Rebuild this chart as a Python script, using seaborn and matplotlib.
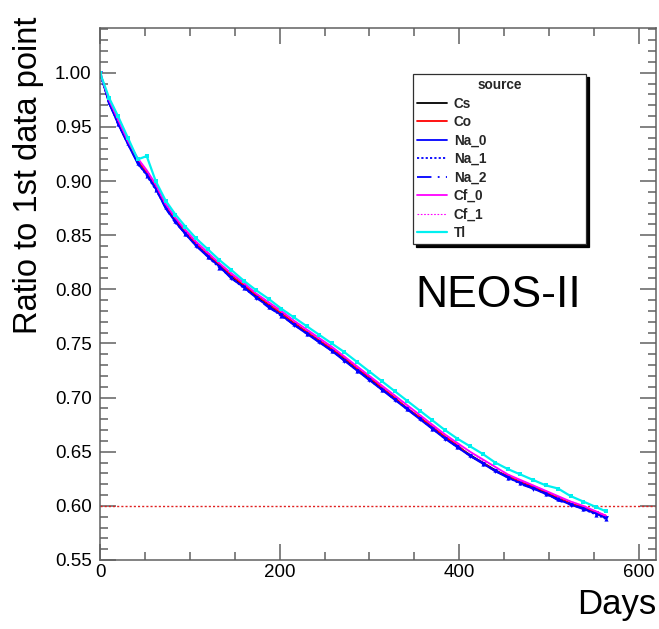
import matplotlib
matplotlib.use("Agg")
import matplotlib.pyplot as plt
from matplotlib.lines import Line2D
from matplotlib.ticker import MultipleLocator, FormatStrFormatter
import seaborn as sns
import pandas as pd

# Measurement days (shared by every source)
days = [0, 10, 20, 31, 42, 52, 62, 73, 84, 95, 107, 120, 133, 146, 160, 174,
        188, 202, 216, 230, 244, 258, 272, 286, 300, 314, 328, 342, 356, 370,
        384, 398, 412, 426, 440, 454, 468, 482, 496, 510, 524, 538, 552, 563]

# Ratio of each source's peak position to its first data point
cs = [1.000, .973, .954, .935, .918, .907, .894, .876, .863, .852, .841, .831, .822, .812,
      .803, .793, .785, .776, .768, .760, .752, .744, .735, .726, .717, .708, .699, .690,
      .681, .672, .663, .655, .647, .640, .633, .627, .622, .617, .612, .607, .602, .598,
      .593, .589]
co = [1.000, .974, .956, .936, .919, .908, .895, .877, .865, .853, .842, .832, .823, .813,
      .804, .795, .786, .778, .769, .761, .753, .745, .737, .727, .719, .709, .700, .690,
      .682, .673, .664, .656, .646, .640, .632, .628, .622, .618, .613, .608, .602, .599,
      .594, .591]
na_0 = [1.000, .972, .953, .934, .916, .906, .893, .875, .862, .851, .840, .830, .821, .810,
        .802, .792, .784, .776, .767, .759, .751, .743, .734, .725, .716, .707, .698, .689,
        .680, .671, .662, .654, .646, .639, .632, .626, .621, .616, .611, .606, .601, .597,
        .593, .589]
na_1 = [1.000, .973, .953, .935, .917, .905, .892, .876, .863, .851, .841, .830, .820, .811,
        .801, .793, .784, .775, .768, .759, .752, .743, .735, .725, .717, .707, .699, .689,
        .681, .671, .663, .654, .647, .639, .633, .626, .621, .617, .611, .606, .602, .597,
        .592, .588]
na_2 = [1.000, .972, .954, .934, .917, .906, .893, .875, .861, .852, .840, .831, .821, .811,
        .802, .792, .783, .776, .767, .760, .751, .744, .734, .726, .716, .708, .698, .690,
        .680, .672, .662, .655, .646, .640, .632, .627, .620, .616, .612, .605, .601, .598,
        .592, .589]
cf_0 = [1.000, .975, .957, .937, .921, .910, .897, .879, .866, .855, .844, .834, .824, .815,
        .806, .796, .788, .780, .771, .763, .755, .747, .738, .729, .720, .711, .702, .693,
        .684, .675, .666, .658, .650, .643, .636, .629, .624, .619, .614, .609, .604, .600,
        .595, .591]
cf_1 = [1.000, .975, .956, .938, .921, .909, .896, .878, .866, .854, .843, .833, .824, .814,
        .805, .796, .787, .779, .771, .762, .754, .746, .738, .728, .720, .710, .702, .692,
        .684, .674, .666, .657, .650, .642, .636, .629, .623, .619, .614, .608, .604, .600,
        .595, .591]
tl = [1.000, .977, .960, .940, .920, .923, .900, .882, .869, .858, .847, .837, .827, .818,
      .808, .799, .791, .782, .774, .766, .758, .750, .742, .733, .724, .715, .706, .697,
      .688, .679, .670, .662, .655, .648, .640, .634, .629, .624, .619, .616, .609, .604,
      .599, .595]

sources = ["Cs", "Co", "Na_0", "Na_1", "Na_2", "Cf_0", "Cf_1", "Tl"]
series = [cs, co, na_0, na_1, na_2, cf_0, cf_1, tl]
reference_ratio = 0.60

# Per-source drawing style
styles = {
    "Cs":   dict(color="#000000", ls="-", lw=1.3, marker=None, ms=0),
    "Co":   dict(color="#ff0000", ls="-", lw=1.3, marker=None, ms=0),
    "Na_0": dict(color="#0000ff", ls="-", lw=1.3, marker="v", ms=3.5),
    "Na_1": dict(color="#0000ff", ls=(0, (1.2, 1.2)), lw=1.3, marker="^", ms=3.0),
    "Na_2": dict(color="#0000ff", ls=(0, (8, 3.5, 1, 3.5)), lw=1.3, marker=None, ms=0),
    "Cf_0": dict(color="#ff00ff", ls="-", lw=1.3, marker=None, ms=0),
    "Cf_1": dict(color="#ff00ff", ls=(0, (1.5, 1.5)), lw=0.8, marker=None, ms=0),
    "Tl":   dict(color="#00f0f0", ls="-", lw=1.6, marker="s", ms=2.6),
}

df = pd.DataFrame({
    "Days": days * len(sources),
    "ratio": [v for vals in series for v in vals],
    "source": [s for s in sources for _ in days],
})

sns.set_theme(style="ticks")
plt.rcParams["font.family"] = ["Liberation Sans", "DejaVu Sans"]

fig = plt.figure(figsize=(6.59, 6.29), dpi=100)
ax = fig.add_axes([100 / 659, 1 - 560 / 629, 556 / 659, 532.3 / 629])

for name in sources:
    st = styles[name]
    sub = df[df["source"] == name]
    sns.lineplot(data=sub, x="Days", y="ratio", ax=ax, color=st["color"],
                 linestyle=st["ls"], linewidth=st["lw"], marker=st["marker"],
                 markersize=st["ms"], markeredgewidth=0, legend=False,
                 estimator=None, sort=False)

ax.axhline(reference_ratio, color="#e02020", ls=(0, (1.5, 1.5)), lw=1.0, zorder=1)

ax.set_xlim(0, 619)
ax.set_ylim(0.55, 1.0416)
ax.xaxis.set_major_locator(MultipleLocator(200))
ax.xaxis.set_minor_locator(MultipleLocator(50))
ax.yaxis.set_major_locator(MultipleLocator(0.05))
ax.yaxis.set_minor_locator(MultipleLocator(0.01))
ax.yaxis.set_major_formatter(FormatStrFormatter("%.2f"))
ax.xaxis.set_major_formatter(FormatStrFormatter("%d"))

frame_col = "#606060"
for sp in ax.spines.values():
    sp.set_color(frame_col)
    sp.set_linewidth(1.1)
ax.tick_params(which="both", direction="in", top=True, right=True,
               color=frame_col, width=1.1, labelsize=13.5, labelcolor="black")
ax.tick_params(which="major", length=11.5)
ax.tick_params(which="minor", length=5.8)
ax.tick_params(axis="y", pad=6)
ax.tick_params(axis="x", pad=3)

ax.set_xlabel("Days", fontsize=25, color="black", ha="right", va="top")
ax.xaxis.set_label_coords(1.0, -0.053)
ax.set_ylabel("Ratio to 1st data point", fontsize=23.5, color="black")
ax.yaxis.set_label_coords(-0.101, 0.723)

ax.text(0.716, 0.497, "NEOS-II", transform=ax.transAxes, fontsize=32,
        ha="center", va="center", color="black")

handles = [Line2D([], [], color=styles[n]["color"], ls=styles[n]["ls"],
                  lw=styles[n]["lw"]) for n in sources]
leg = ax.legend(handles, sources, title="source", loc="upper left",
                bbox_to_anchor=(0.563, 0.594, 0.311, 0.319), mode="expand",
                prop={"size": 9.8, "weight": "bold"},
                title_fontproperties={"size": 9.8, "weight": "bold"},
                frameon=True, fancybox=False, framealpha=1,
                edgecolor="#303030", borderpad=0.3, labelspacing=0.33,
                handlelength=2.2, handletextpad=0.5, borderaxespad=0,
                shadow={"color": "black", "alpha": 1})
leg.get_frame().set_linewidth(0.9)

fig.savefig("out.png", dpi=100, facecolor="white")
